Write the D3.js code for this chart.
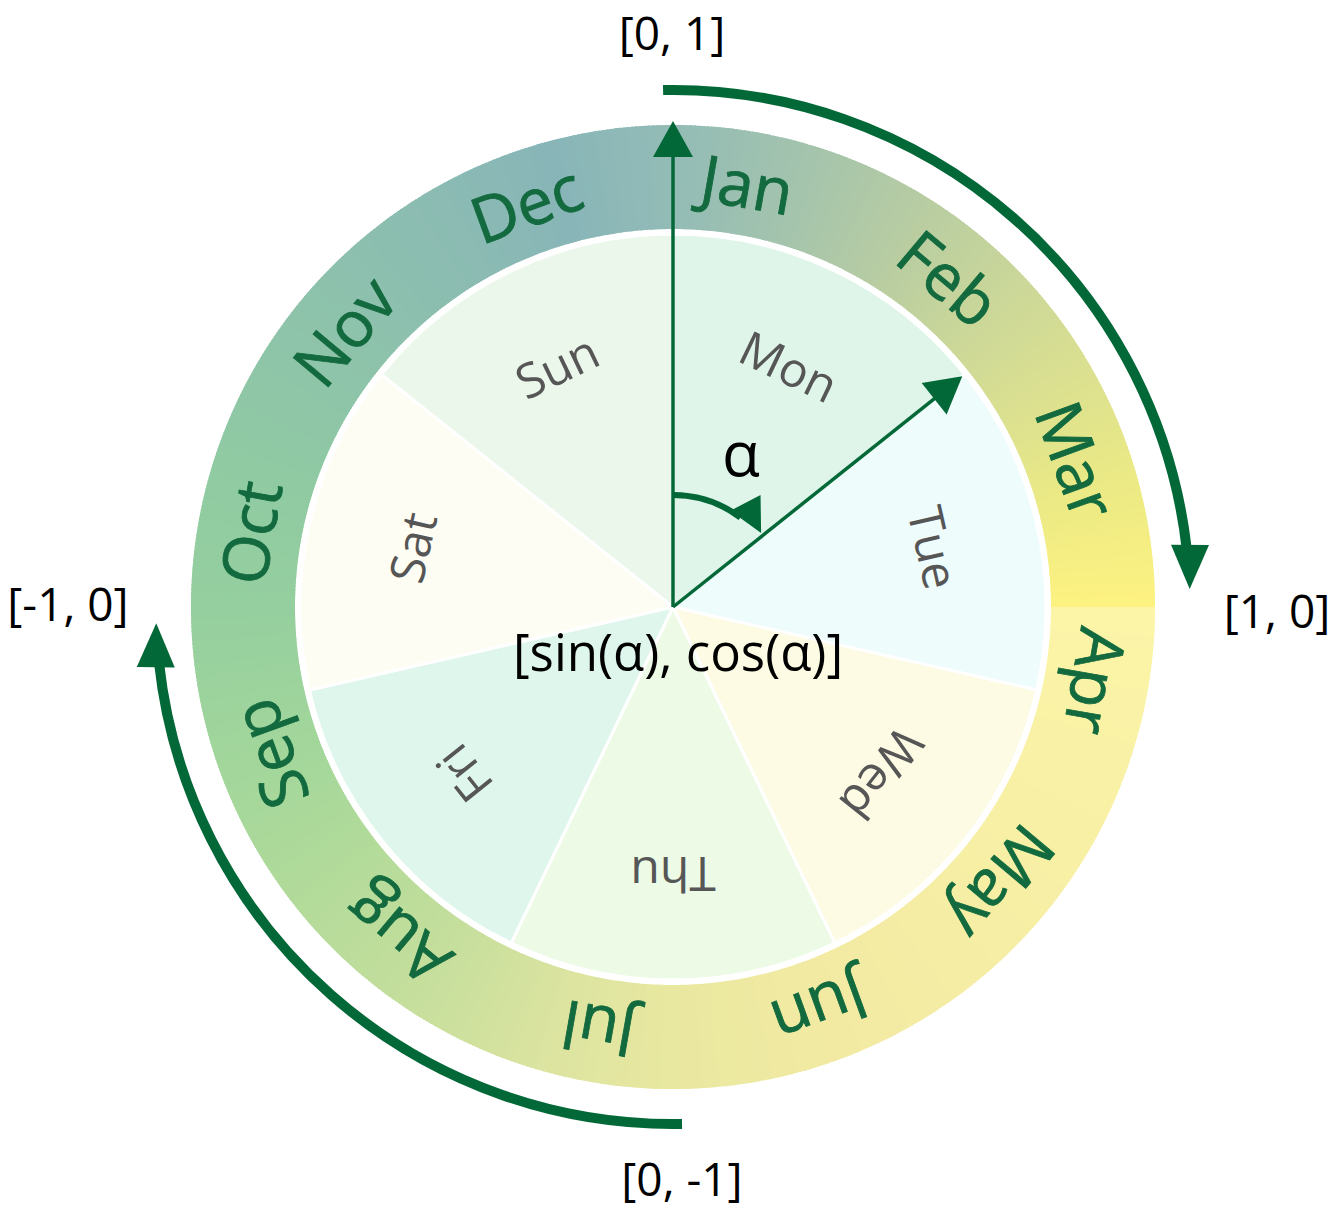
<!DOCTYPE html>
<html>
<head>
<meta charset="utf-8">
<script src="https://cdn.jsdelivr.net/npm/d3@7"></script>
<style>
  body { margin: 0; background: #fff; }
  svg { display: block; font-family: "Open Sans", "Noto Sans", sans-serif; }
</style>
</head>
<body>
<svg id="chart" width="1336" height="1215"></svg>
<script>
// months on the outer ring, days in the pie
var months = ['Jan', 'Feb', 'Mar', 'Apr', 'May', 'Jun', 'Jul', 'Aug', 'Sep', 'Oct', 'Nov', 'Dec'];
var days = ['Mon', 'Tue', 'Wed', 'Thu', 'Fri', 'Sat', 'Sun'];
var dayColors = ['#dff5ea', '#effcfc', '#fdfbe3', '#edfbe6', '#dff6ec', '#fefdf3', '#ecf7ec'];

// ring colour stops, by angle (degrees clockwise from north)
var ringAngles = [0, 15, 30, 45, 60, 75, 89.9, 90, 110, 135, 160, 180, 195, 215, 235, 250, 270, 285, 305, 325, 345, 360];
var ringColors = ['#93bcb6', '#a2c3ae', '#b5cba3', '#c9d69a', '#dbe090', '#ecea85', '#fdf281',
                  '#fcf5a8', '#f9f2a6', '#f6eea4', '#f2eaa3', '#e9e8a0', '#dce4a0', '#c4de9c', '#afda9a',
                  '#a2d69b', '#95cf9f', '#90cba2', '#8ec4a9', '#8cbdb1', '#88b5b8', '#93bcb6'];

// the four unit-circle points
var axisLabels = ['[0, 1]', '[1, 0]', '[0, -1]', '[-1, 0]'];
var axisAngles = [0, 90, 180, 270];

var alphaDeg = 360 / days.length;

var svg = d3.select('#chart');
var cx = 673, cy = 607;
var ringOuter = 482, ringInner = 378, pieR = 373;
var green = '#036837', textGreen = '#126a3e';

var rad = function(d) { return d * Math.PI / 180; };
// point at angle (deg from north, clockwise) and radius
var pt = function(a, r) { return [cx + r * Math.sin(rad(a)), cy - r * Math.cos(rad(a))]; };

var g = svg.append('g').attr('transform', 'translate(' + cx + ',' + cy + ')');

// ---- outer ring, drawn as thin slices so the colour runs round the circle
var ringColor = d3.scaleLinear().domain(ringAngles).range(ringColors).interpolate(d3.interpolateRgb);
var step = 0.5;
var ringSteps = d3.range(0, 360, step);
var ringArc = d3.arc().innerRadius(ringInner).outerRadius(ringOuter);

g.append('g').selectAll('path')
  .data(ringSteps)
  .join('path')
  .attr('d', function(a) {
    // overlap neighbours a little to hide seams, except at the 90 degree break
    var end = (a + step === 90) ? 90 : a + step + 0.25;
    return ringArc({ startAngle: rad(a), endAngle: rad(end) });
  })
  .attr('fill', function(a) { return ringColor(a + step / 2); });

// ---- day pie
var pie = d3.pie().value(1).sort(null);
var dayArcs = pie(days);
var pieArc = d3.arc().innerRadius(0).outerRadius(pieR);

g.append('g').selectAll('path')
  .data(dayArcs)
  .join('path')
  .attr('d', pieArc)
  .attr('fill', function(d, i) { return dayColors[i]; })
  .attr('stroke', '#fff')
  .attr('stroke-width', 3);

g.append('g').selectAll('text')
  .data(dayArcs)
  .join('text')
  .attr('transform', function(d) {
    var a = (d.startAngle + d.endAngle) / 2 * 180 / Math.PI;
    return 'rotate(' + a + ') translate(0,' + (-268) + ')';
  })
  .attr('text-anchor', 'middle')
  .attr('dominant-baseline', 'central')
  .attr('font-size', 48)
  .attr('fill', '#565656')
  .text(function(d) { return d.data; });

// ---- month labels
var monthScale = d3.scaleLinear().domain([0, months.length]).range([0, 360]);

g.append('g').selectAll('text')
  .data(months)
  .join('text')
  .attr('transform', function(d, i) {
    return 'rotate(' + monthScale(i + 1 / 3) + ') translate(0,' + (-430) + ')';
  })
  .attr('text-anchor', 'middle')
  .attr('dominant-baseline', 'central')
  .attr('font-size', 64)
  .attr('fill', textGreen)
  .attr('stroke', textGreen)
  .attr('stroke-width', 0.8)
  .text(function(d) { return d; });

// ---- arrowhead helper: triangle with tip at p, pointing along dir (radians, screen)
function head(p, dir, len, half) {
  var bx = p[0] - len * Math.cos(dir), by = p[1] - len * Math.sin(dir);
  var nx = -Math.sin(dir), ny = Math.cos(dir);
  return 'M' + p[0] + ',' + p[1] +
    'L' + (bx + nx * half) + ',' + (by + ny * half) +
    'L' + (bx - nx * half) + ',' + (by - ny * half) + 'Z';
}

var arrows = svg.append('g');

// radial arrows: the north axis and the alpha direction
[[0, 486], [alphaDeg, 370]].forEach(function(r) {
  var tip = pt(r[0], r[1]);
  var base = pt(r[0], r[1] - 34);
  arrows.append('line')
    .attr('x1', cx).attr('y1', cy)
    .attr('x2', base[0]).attr('y2', base[1])
    .attr('stroke', green).attr('stroke-width', 3.5);
  var dir = rad(r[0] - 90);
  arrows.append('path').attr('d', head(tip, dir, 36, 20)).attr('fill', green);
});

// alpha arc
(function() {
  var r = 112, tipA = 50;
  var p = d3.path();
  p.arc(cx, cy, r, rad(-90), rad(tipA - 13 - 90));
  arrows.append('path').attr('d', p.toString())
    .attr('fill', 'none').attr('stroke', green).attr('stroke-width', 6);
  var tip = pt(tipA, r + 3);
  var dir = rad(tipA) + 0.22; // clockwise tangent, bent slightly inwards
  arrows.append('path').attr('d', head(tip, dir, 34, 17)).attr('fill', green);
})();

svg.append('text')
  .attr('x', 741).attr('y', 476)
  .attr('text-anchor', 'middle')
  .attr('font-size', 62)
  .attr('fill', '#000')
  .text('α');

// outer curved arrows
[[-1.1, 88], [179, 268.2]].forEach(function(s) {
  var r = 517, headLen = 44;
  var endA = s[1] - headLen / r * 180 / Math.PI;
  var p = d3.path();
  p.arc(cx, cy, r, rad(s[0] - 90), rad(endA - 90 + 0.5));
  arrows.append('path').attr('d', p.toString())
    .attr('fill', 'none').attr('stroke', green).attr('stroke-width', 10);
  var tip = pt(s[1], r);
  var dir = rad(s[1]) + rad((s[1] - endA) / 2);
  arrows.append('path').attr('d', head(tip, dir, headLen, 19)).attr('fill', green);
});

// ---- text labels
var labelPos = d3.scaleOrdinal().domain(axisAngles).range([[672, 50], [1277, 628], [682, 1196], [68, 621]]);

svg.append('g').selectAll('text')
  .data(axisLabels)
  .join('text')
  .attr('x', function(d, i) { return labelPos(axisAngles[i])[0]; })
  .attr('y', function(d, i) { return labelPos(axisAngles[i])[1]; })
  .attr('text-anchor', 'middle')
  .attr('font-size', 46)
  .attr('fill', '#000')
  .text(function(d) { return d; });

svg.append('text')
  .attr('x', 678).attr('y', 671)
  .attr('text-anchor', 'middle')
  .attr('font-size', 51)
  .attr('fill', '#000')
  .text('[sin(α), cos(α)]');
</script>
</body>
</html>
